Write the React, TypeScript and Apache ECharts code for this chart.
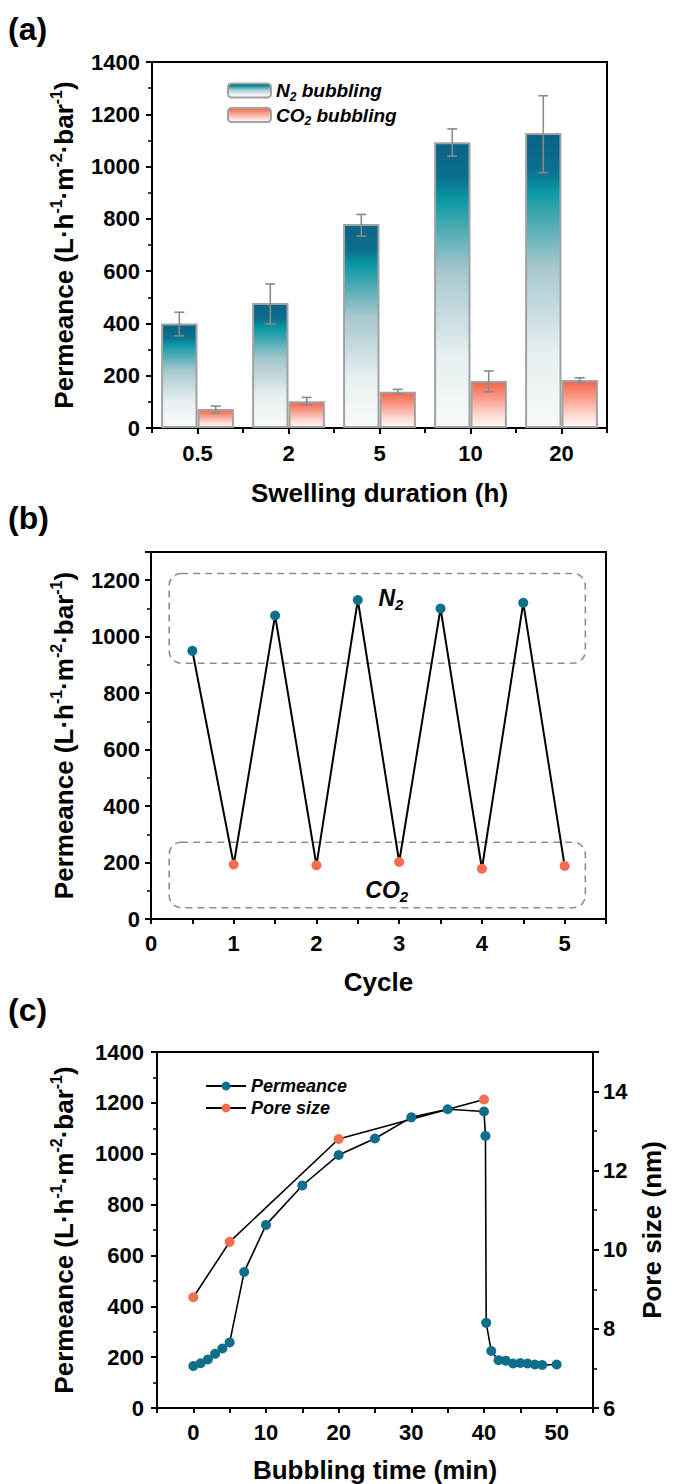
import React, { useEffect, useRef } from 'react';
import * as echarts from 'echarts';

// ---------- (a) data ----------
const durations = ['0.5', '2', '5', '10', '20'];
const n2Perm = [400, 478, 780, 1093, 1128];
const n2Low = [352, 398, 734, 1040, 977];
const n2High = [443, 551, 817, 1144, 1271];
const co2Perm = [73, 102, 139, 180, 184];
const co2Low = [56, 88, 131, 139, 174];
const co2High = [84, 117, 148, 218, 192];

// ---------- (b) data ----------
const n2Cycle = [0.5, 1.5, 2.5, 3.5, 4.5];
const n2CycleVals = [950, 1075, 1130, 1100, 1120];
const co2Cycle = [1, 2, 3, 4, 5];
const co2CycleVals = [193, 190, 202, 178, 188];
// annotation boxes [x0, y0, x1, y1] in data units, label positions
const n2Box = [0.22, 906, 5.25, 1224];
const co2Box = [0.22, 40, 5.25, 272];
const n2LabelPos = [2.9, 1136];
const co2LabelPos = [2.85, 103];

// ---------- (c) data ----------
const bubTime = [0, 1, 2, 3, 4, 5, 7, 10, 15, 20, 25, 30, 35, 40, 40.2, 40.3, 41, 42, 43, 44, 45, 46, 47, 48, 50];
const bubPerm = [165, 176, 191, 213, 234, 258, 535, 720, 875, 995, 1060, 1143, 1175, 1166, 1070, 335, 224, 188, 186, 175, 177, 175, 171, 169, 171];
const poreTime = [0, 5, 20, 40];
const poreSize = [8.8, 10.2, 12.8, 13.8];

const FONT = '"Liberation Sans", Arial, Helvetica, sans-serif';
const TEAL = '#0f6f8b';
const ORANGE = '#f26e50';
const TICK_FS = 22;
const NAME_FS = 26;

const PERM_NAME = 'Permeance (L·h{sup|-1}·m{sup|-2}·bar{sup|-1})';
const permNameStyle = {
  fontSize: NAME_FS,
  fontWeight: 'bold',
  fontFamily: FONT,
  color: '#000',
  lineHeight: 32,
  rich: {
    sup: { fontSize: 16, fontWeight: 'bold', fontFamily: FONT, color: '#000', verticalAlign: 'top', lineHeight: 16 },
  },
};
const nameStyle = { fontSize: NAME_FS, fontWeight: 'bold', fontFamily: FONT, color: '#000' };

const axisLine = { show: true, onZero: false, lineStyle: { color: '#000', width: 2 } };
const axisTick = { show: true, inside: false, length: 6, lineStyle: { color: '#000', width: 2 } };
const minorTick = { show: true, splitNumber: 2, length: 4, lineStyle: { color: '#000', width: 1.5 } };
const plain = (v: number) => String(v);
const label = (margin: number) => ({
  fontSize: TICK_FS,
  fontWeight: 'bold',
  fontFamily: FONT,
  color: '#000',
  margin,
});

const n2Grad = new echarts.graphic.LinearGradient(0, 0, 0, 1, [
  { offset: 0, color: '#0b6386' },
  { offset: 0.12, color: '#0b6f8e' },
  { offset: 0.2, color: '#0a9aa6' },
  { offset: 0.26, color: '#33a3ad' },
  { offset: 0.45, color: '#a6c7cd' },
  { offset: 0.75, color: '#e6eff1' },
  { offset: 1, color: '#f8fafb' },
]);
const co2Grad = new echarts.graphic.LinearGradient(0, 0, 0, 1, [
  { offset: 0, color: '#f5644a' },
  { offset: 0.35, color: '#f99a88' },
  { offset: 0.75, color: '#fddcd4' },
  { offset: 1, color: '#fff8f6' },
]);

function errorSeries(low: number[], high: number[], sign: number) {
  return {
    type: 'custom',
    xAxisIndex: 0,
    yAxisIndex: 0,
    z: 10,
    silent: true,
    encode: { x: 0, y: [1, 2] },
    data: low.map((l, i) => [i, l, high[i]]),
    renderItem: (_params: any, api: any) => {
      const i = api.value(0);
      const lo = api.coord([i, api.value(1)]);
      const hi = api.coord([i, api.value(2)]);
      const band = api.size([1, 0])[0];
      const x = lo[0] + sign * band * 0.2;
      const cap = 5;
      const st = { stroke: '#8a8a8a', lineWidth: 1.6 };
      return {
        type: 'group',
        children: [
          { type: 'line', shape: { x1: x, y1: lo[1], x2: x, y2: hi[1] }, style: st },
          { type: 'line', shape: { x1: x - cap, y1: lo[1], x2: x + cap, y2: lo[1] }, style: st },
          { type: 'line', shape: { x1: x - cap, y1: hi[1], x2: x + cap, y2: hi[1] }, style: st },
        ],
      };
    },
  };
}

const cycleData: any[] = [];
for (let i = 0; i < n2Cycle.length; i++) {
  cycleData.push({ value: [n2Cycle[i], n2CycleVals[i]], itemStyle: { color: TEAL } });
  cycleData.push({ value: [co2Cycle[i], co2CycleVals[i]], itemStyle: { color: ORANGE } });
}

const legendRich = {
  t: { fontSize: 19, fontWeight: 'bold', fontStyle: 'italic', fontFamily: FONT, color: '#000', lineHeight: 24 },
  s: { fontSize: 12, fontWeight: 'bold', fontStyle: 'italic', fontFamily: FONT, color: '#000', lineHeight: 12, verticalAlign: 'bottom' },
};

const option: any = {
  animation: false,
  backgroundColor: '#fff',
  textStyle: { fontFamily: FONT },
  grid: [
    { left: 152, top: 62, width: 455, height: 366, show: true, borderColor: '#000', borderWidth: 2 },
    { left: 151, top: 552, width: 455, height: 367, show: true, borderColor: '#000', borderWidth: 2 },
    { left: 157, top: 1052, width: 445, height: 357, show: true, borderColor: '#000', borderWidth: 2 },
  ],
  legend: [
    {
      data: ['N2 bubbling', 'CO2 bubbling'],
      orient: 'vertical',
      left: 222,
      top: 76,
      itemWidth: 43,
      itemHeight: 14,
      itemGap: 3,
      selectedMode: false,
      formatter: (n: string) => (n.startsWith('N2') ? '{t|N}{s|2}{t| bubbling}' : '{t|CO}{s|2}{t| bubbling}'),
      textStyle: { rich: legendRich },
    },
    {
      data: ['Permeance', 'Pore size'],
      orient: 'vertical',
      left: 200,
      top: 1072,
      itemWidth: 40,
      itemHeight: 11,
      itemGap: 4,
      selectedMode: false,
      textStyle: { fontSize: 18, fontWeight: 'bold', fontStyle: 'italic', fontFamily: FONT, color: '#000', lineHeight: 18 },
    },
  ],
  xAxis: [
    {
      gridIndex: 0,
      type: 'category',
      position: 'bottom',
      data: durations,
      axisLine,
      axisTick: { ...axisTick, alignWithLabel: true },
      axisLabel: label(14),
      splitLine: { show: false },
      name: 'Swelling duration (h)',
      nameLocation: 'middle',
      nameGap: 52,
      nameTextStyle: nameStyle,
    },
    {
      gridIndex: 0,
      type: 'category',
      position: 'bottom',
      data: durations,
      axisLine: { show: false },
      axisTick: { show: true, length: 5, lineStyle: { color: '#000', width: 2 } },
      axisLabel: { show: false },
      splitLine: { show: false },
    },
    {
      gridIndex: 1,
      type: 'value',
      position: 'bottom',
      min: 0,
      max: 5.5,
      interval: 0.5,
      axisLine,
      axisTick: { ...axisTick, length: 5 },
      axisLabel: { ...label(13), formatter: (v: number) => (v % 1 === 0 ? String(v) : '') },
      splitLine: { show: false },
      name: 'Cycle',
      nameLocation: 'middle',
      nameGap: 50,
      nameTextStyle: nameStyle,
    },
    {
      gridIndex: 2,
      type: 'value',
      position: 'bottom',
      min: -5,
      max: 55,
      interval: 5,
      axisLine,
      axisTick: { ...axisTick, length: 5 },
      axisLabel: { ...label(13), formatter: (v: number) => (v % 10 === 0 && v >= 0 && v <= 50 ? String(v) : '') },
      splitLine: { show: false },
      name: 'Bubbling time (min)',
      nameLocation: 'middle',
      nameGap: 49,
      nameTextStyle: nameStyle,
    },
  ],
  yAxis: [
    {
      gridIndex: 0,
      type: 'value',
      position: 'left',
      min: 0,
      max: 1400,
      interval: 200,
      axisLine,
      axisTick,
      minorTick,
      axisLabel: { ...label(12), formatter: plain },
      splitLine: { show: false },
      minorSplitLine: { show: false },
      name: PERM_NAME,
      nameLocation: 'middle',
      nameRotate: 90,
      nameGap: 70,
      nameTextStyle: permNameStyle,
    },
    {
      gridIndex: 1,
      type: 'value',
      position: 'left',
      min: 0,
      max: 1300,
      interval: 200,
      axisLine,
      axisTick,
      minorTick,
      axisLabel: { ...label(11), showMaxLabel: false, formatter: plain },
      splitLine: { show: false },
      minorSplitLine: { show: false },
      name: PERM_NAME,
      nameLocation: 'middle',
      nameRotate: 90,
      nameGap: 70,
      nameTextStyle: permNameStyle,
    },
    {
      gridIndex: 2,
      type: 'value',
      position: 'left',
      min: 0,
      max: 1400,
      interval: 200,
      axisLine,
      axisTick,
      minorTick,
      axisLabel: { ...label(13), formatter: plain },
      splitLine: { show: false },
      minorSplitLine: { show: false },
      name: PERM_NAME,
      nameLocation: 'middle',
      nameRotate: 90,
      nameGap: 77,
      nameTextStyle: permNameStyle,
    },
    {
      gridIndex: 2,
      type: 'value',
      position: 'right',
      min: 6,
      max: 15,
      interval: 2,
      axisLine,
      axisTick,
      minorTick,
      axisLabel: { ...label(10), showMaxLabel: false, formatter: plain },
      splitLine: { show: false },
      minorSplitLine: { show: false },
      name: 'Pore size (nm)',
      nameLocation: 'middle',
      nameRotate: 90,
      nameGap: 46,
      nameTextStyle: nameStyle,
    },
  ],
  series: [
    {
      name: 'N2 bubbling',
      type: 'bar',
      xAxisIndex: 0,
      yAxisIndex: 0,
      data: n2Perm,
      barWidth: '40%',
      barGap: '0%',
      itemStyle: { color: n2Grad, borderColor: '#a2a2a2', borderWidth: 2 },
    },
    {
      name: 'CO2 bubbling',
      type: 'bar',
      xAxisIndex: 0,
      yAxisIndex: 0,
      data: co2Perm,
      barWidth: '40%',
      barGap: '0%',
      itemStyle: { color: co2Grad, borderColor: '#a2a2a2', borderWidth: 2 },
    },
    errorSeries(n2Low, n2High, -1),
    errorSeries(co2Low, co2High, 1),
    {
      name: 'Cycling',
      type: 'line',
      xAxisIndex: 2,
      yAxisIndex: 1,
      data: cycleData,
      symbol: 'circle',
      symbolSize: 10,
      lineStyle: { color: '#000', width: 2 },
      itemStyle: { color: TEAL },
      z: 5,
    },
    {
      name: 'Permeance',
      type: 'line',
      xAxisIndex: 3,
      yAxisIndex: 2,
      data: bubTime.map((t, i) => [t, bubPerm[i]]),
      symbol: 'circle',
      symbolSize: 10,
      lineStyle: { color: '#000', width: 1.6 },
      itemStyle: { color: TEAL },
    },
    {
      name: 'Pore size',
      type: 'line',
      xAxisIndex: 3,
      yAxisIndex: 3,
      data: poreTime.map((t, i) => [t, poreSize[i]]),
      symbol: 'circle',
      symbolSize: 10,
      lineStyle: { color: '#000', width: 1.6 },
      itemStyle: { color: ORANGE },
    },
  ],
};

function panelLabel(text: string, y: number) {
  return {
    type: 'text',
    left: 8,
    top: y,
    style: { text, fontSize: 32, fontWeight: 'bold', fontFamily: FONT, fill: '#000' },
  };
}

function buildGraphic(chart: any) {
  const px = (p: number[]) => chart.convertToPixel({ gridIndex: 1 }, p);
  const box = (b: number[]) => {
    const a = px([b[0], b[3]]);
    const c = px([b[2], b[1]]);
    return {
      type: 'rect',
      shape: { x: a[0], y: a[1], width: c[0] - a[0], height: c[1] - a[1], r: 12 },
      style: { fill: 'none', stroke: '#8e8e8e', lineWidth: 1.6, lineDash: [7, 5] },
      z: 1,
    };
  };
  const txt = (pos: number[], main: string) => {
    const p = px(pos);
    return {
      type: 'text',
      x: p[0],
      y: p[1],
      style: {
        text: `{m|${main}}{s|2}`,
        align: 'center',
        verticalAlign: 'middle',
        textAlign: 'center',
        textVerticalAlign: 'middle',
        rich: {
          m: { fontSize: 23, fontWeight: 'bold', fontStyle: 'italic', fontFamily: FONT, fill: '#000', lineHeight: 28 },
          s: { fontSize: 15, fontWeight: 'bold', fontStyle: 'italic', fontFamily: FONT, fill: '#000', lineHeight: 15, verticalAlign: 'bottom' },
        },
      },
      z: 2,
    };
  };
  return [
    panelLabel('(a)', 13),
    panelLabel('(b)', 502),
    panelLabel('(c)', 994),
    box(n2Box),
    box(co2Box),
    txt(n2LabelPos, 'N'),
    txt(co2LabelPos, 'CO'),
  ];
}

export default function App() {
  const ref = useRef<HTMLDivElement>(null);
  useEffect(() => {
    if (!ref.current) return;
    const chart = echarts.init(ref.current, null, { renderer: 'svg' });
    chart.setOption(option);
    chart.setOption({ graphic: buildGraphic(chart) });
    return () => chart.dispose();
  }, []);
  return (
    <div
      ref={ref}
      style={{ position: 'absolute', left: 0, top: 0, width: 673, height: 1484, background: '#fff' }}
    />
  );
}
